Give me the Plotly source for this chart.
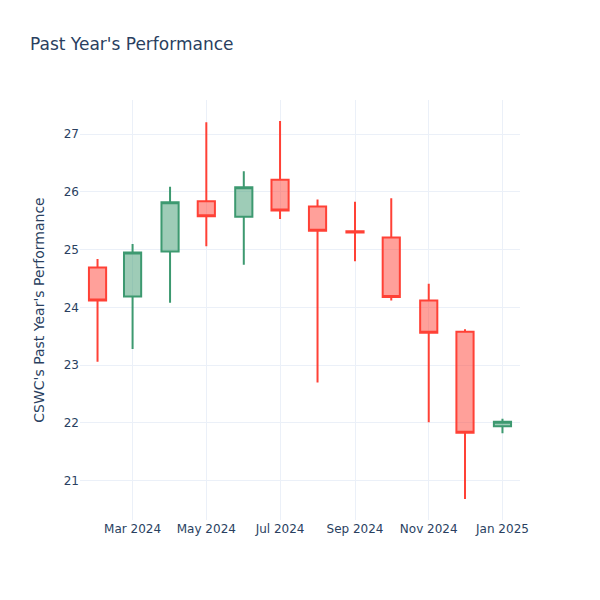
import plotly.graph_objects as go

dates = ["2024-02-01", "2024-03-01", "2024-04-01", "2024-05-01", "2024-06-01", "2024-07-01",
         "2024-08-01", "2024-09-01", "2024-10-01", "2024-11-01", "2024-12-01", "2025-01-01"]
open_ = [24.69, 24.19, 24.97, 25.84, 25.57, 26.21, 25.75, 25.32, 25.21, 24.12, 23.58, 21.94]
high = [24.84, 25.10, 26.09, 27.21, 26.36, 27.23, 25.87, 25.83, 25.89, 24.41, 23.62, 22.07]
low = [23.06, 23.28, 24.08, 25.06, 24.74, 25.53, 22.70, 24.80, 24.12, 22.01, 20.68, 21.82]
close = [24.12, 24.95, 25.82, 25.58, 26.08, 25.68, 25.33, 25.30, 24.18, 23.56, 21.83, 22.02]

fig = go.Figure(go.Candlestick(x=dates, open=open_, high=high, low=low, close=close))
fig.update_layout(
    template="plotly_white",
    width=592, height=592,
    margin=dict(l=72, r=80, t=92, b=80),
    font=dict(family="DejaVu Sans"),
    title=dict(text="Past Year's Performance", x=22 / 592, xanchor="left",
               y=1 - 36 / 592, yanchor="middle"),
    yaxis_title="CSWC's Past Year's Performance",
    xaxis_rangeslider_visible=False,
)
fig.write_html("out.html")
